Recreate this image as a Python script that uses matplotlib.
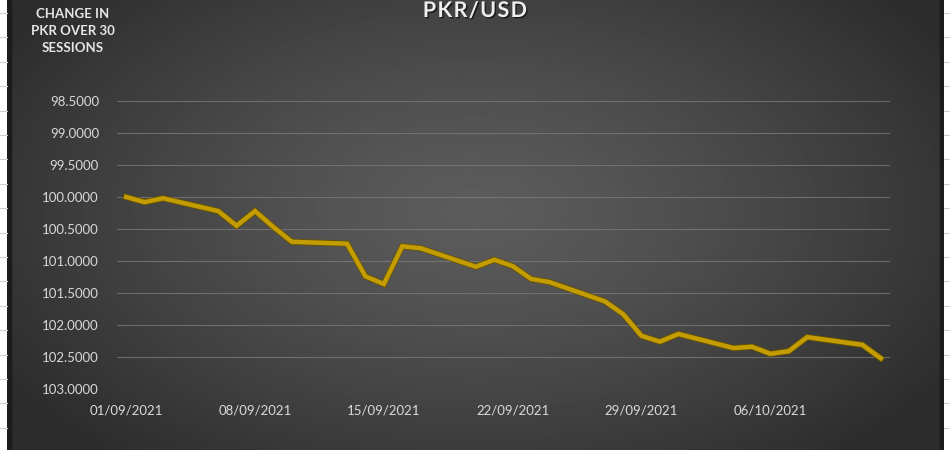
import numpy as np
import pandas as pd
import matplotlib
matplotlib.use("Agg")
import matplotlib.pyplot as plt
import matplotlib.dates as mdates
import matplotlib.patheffects as pe
from matplotlib.patches import Rectangle

# trading sessions 01/09/2021 - 12/10/2021
dates = ["2021-09-01", "2021-09-02", "2021-09-03", "2021-09-06", "2021-09-07",
         "2021-09-08", "2021-09-09", "2021-09-10", "2021-09-13", "2021-09-14",
         "2021-09-15", "2021-09-16", "2021-09-17", "2021-09-20", "2021-09-21",
         "2021-09-22", "2021-09-23", "2021-09-24", "2021-09-27", "2021-09-28",
         "2021-09-29", "2021-09-30", "2021-10-01", "2021-10-04", "2021-10-05",
         "2021-10-06", "2021-10-07", "2021-10-08", "2021-10-11", "2021-10-12"]
pkr = [100.00, 100.08, 100.02, 100.22, 100.45,
       100.22, 100.47, 100.70, 100.73, 101.24,
       101.36, 100.77, 100.80, 101.09, 100.98,
       101.08, 101.28, 101.33, 101.63, 101.83,
       102.17, 102.26, 102.14, 102.36, 102.34,
       102.45, 102.41, 102.19, 102.31, 102.52]
xtick_dates = ["2021-09-01", "2021-09-08", "2021-09-15", "2021-09-22", "2021-09-29", "2021-10-06"]
yticks = [98.5, 99.0, 99.5, 100.0, 100.5, 101.0, 101.5, 102.0, 102.5, 103.0]

x = pd.to_datetime(dates)

W, H = 950, 450
fig = plt.figure(figsize=(W / 100, H / 100), dpi=100)
fig.patch.set_facecolor("white")

# spreadsheet bits showing on both sides
for x0, x1 in [(0, 7), (944, 950)]:
    for ry in np.arange(13, H, 24.4):
        fig.add_artist(plt.Line2D([x0 / W, x1 / W], [1 - ry / H, 1 - ry / H],
                                  color="#d0d0d0", lw=0.8))

# chart area with radial gradient
cx0, cx1 = 7, 944
bg = fig.add_axes([cx0 / W, 0, (cx1 - cx0) / W, 1])
gx, gy = np.meshgrid(np.linspace(cx0, cx1, 400), np.linspace(0, H, 200))
r = np.sqrt(((gx - 475) / 560) ** 2 + ((gy - 210) / 330) ** 2)
r = np.clip(r, 0, 1)
light, dark = 0x5c / 255, 0x2c / 255
shade = light + (dark - light) * r ** 1.3
bg.imshow(shade, cmap="gray", vmin=0, vmax=1, aspect="auto",
          extent=[0, 1, 0, 1], origin="upper", interpolation="bilinear")
bg.add_patch(Rectangle((0, 0), 0.004, 1, transform=bg.transAxes, color="#1c1c1c"))
bg.add_patch(Rectangle((0.996, 0), 0.004, 1, transform=bg.transAxes, color="#1c1c1c"))
bg.set_axis_off()

ax = fig.add_axes([117 / W, 1 - 389 / H, (890 - 117) / W, (389 - 101) / H])
ax.patch.set_alpha(0)

ax.plot(x, pkr, color="#c29c00", lw=3.2, solid_joinstyle="miter",
        path_effects=[pe.Stroke(linewidth=4.4, foreground="#6a5400"), pe.Normal()])

ax.set_ylim(103.0, 98.5)
ax.set_yticks(yticks)
ax.set_yticklabels([f"{v:.4f}" for v in yticks])
ax.set_xlim(pd.Timestamp("2021-09-01") - pd.Timedelta(hours=12),
            pd.Timestamp("2021-10-12") + pd.Timedelta(hours=12))
ax.set_xticks(pd.to_datetime(xtick_dates))
ax.xaxis.set_major_formatter(mdates.DateFormatter("%d/%m/%Y"))

ax.grid(axis="y", color="#7c7c7c", lw=0.8, alpha=0.75)
ax.grid(axis="x", visible=False)
for s in ax.spines.values():
    s.set_visible(False)
ax.tick_params(length=0, colors="#d9d9d9", labelsize=9.5)
ax.tick_params(axis="y", pad=13)
ax.tick_params(axis="x", pad=11)
for lab in ax.get_xticklabels() + ax.get_yticklabels():
    lab.set_fontfamily("Lato")

shadow = [pe.withSimplePatchShadow(offset=(1, -1), shadow_rgbFace="black", alpha=0.6)]
fig.text(475 / W, 1 - 17 / H, "P K R / U S D".replace(" ", "\u200a"), ha="center",
         va="baseline", fontsize=15.5, fontweight="bold", color="#eeeeee",
         family=["Lato", "DejaVu Sans"], path_effects=shadow)
fig.text(73 / W, 1 - 31 / H, "CHANGE IN\nPKR OVER 30\nSESSIONS", ha="center", va="center",
         fontsize=9.5, fontweight="bold", color="#e6e6e6", family="Lato", linespacing=1.45)

fig.savefig("out.png", dpi=100, facecolor=fig.get_facecolor())
